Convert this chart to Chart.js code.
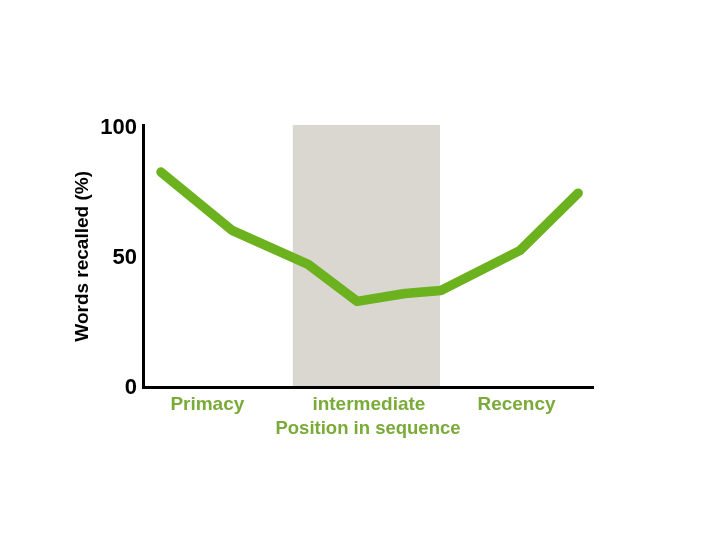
<!DOCTYPE html>
<html>
<head>
<meta charset="utf-8">
<script src="https://cdn.jsdelivr.net/npm/chart.js@4"></script>
<style>
  html, body { margin: 0; padding: 0; background: #ffffff; }
  #wrap { position: relative; width: 720px; height: 540px; }
</style>
</head>
<body>
<div id="wrap"><canvas id="c"></canvas></div>
<script>
// Serial position curve (x: relative position in sequence, 0-100; y: % words recalled)
const positions = [4.0, 19.8, 36.7, 47.6, 58.2, 66.2, 83.8, 96.7];
const recalled  = [82.9, 60.5, 47.4, 33.2, 36.2, 37.4, 52.8, 74.8];
const yTicks = [0, 50, 100];
const regionLabels = ['Primacy', 'intermediate', 'Recency'];
const regionCenters = [14.3, 50.2, 83.0];
const intermediateBand = [33.3, 66.0];

const GREEN_LINE = '#6cb21e';
const GREEN_TEXT = '#7aab38';
const FONT = "'Liberation Sans', Arial, Helvetica, sans-serif";

const bandPlugin = {
  id: 'band',
  beforeDraw(chart) {
    const { ctx, chartArea, scales } = chart;
    const x0 = scales.x.getPixelForValue(intermediateBand[0]);
    const x1 = scales.x.getPixelForValue(intermediateBand[1]);
    ctx.save();
    ctx.fillStyle = '#d9d7d0';
    ctx.fillRect(x0, chartArea.top, x1 - x0, chartArea.bottom - chartArea.top);
    ctx.restore();
  }
};

new Chart(document.getElementById('c'), {
  type: 'line',
  data: {
    datasets: [{
      data: positions.map((p, i) => ({ x: p, y: recalled[i] })),
      borderColor: GREEN_LINE,
      borderWidth: 9.5,
      borderCapStyle: 'round',
      borderJoinStyle: 'round',
      pointRadius: 0,
      tension: 0,
      fill: false
    }]
  },
  options: {
    responsive: true,
    maintainAspectRatio: false,
    animation: false,
    events: [],
    layout: { padding: { left: 68, right: 127, top: 125, bottom: 102 } },
    plugins: { legend: { display: false }, tooltip: { enabled: false } },
    scales: {
      x: {
        type: 'linear',
        min: 0,
        max: 100,
        grid: { display: false, drawTicks: false },
        border: { display: true, color: '#000000', width: 3 },
        afterBuildTicks(scale) { scale.ticks = regionCenters.map(v => ({ value: v })); },
        ticks: {
          autoSkip: false,
          maxRotation: 0,
          padding: 6,
          color: GREEN_TEXT,
          font: { family: FONT, size: 19, weight: 'bold' },
          callback(value, index) { return regionLabels[index]; }
        },
        title: {
          display: true,
          text: 'Position in sequence',
          color: GREEN_TEXT,
          font: { family: FONT, size: 18.5, weight: 'bold', lineHeight: 1.0 },
          padding: { top: -3, bottom: 0 }
        }
      },
      y: {
        type: 'linear',
        min: 0,
        max: 101,
        afterFit(scale) { scale.width = 75; },
        afterBuildTicks(scale) { scale.ticks = yTicks.map(v => ({ value: v })); },
        grid: { display: false, drawTicks: false },
        border: { display: true, color: '#000000', width: 3 },
        ticks: {
          padding: 6,
          color: '#000000',
          font: { family: FONT, size: 22, weight: 'bold' }
        },
        title: {
          display: true,
          text: 'Words recalled (%)',
          color: '#000000',
          font: { family: FONT, size: 19, weight: 'bold' },
          padding: { top: 3, bottom: 0 }
        }
      }
    }
  },
  plugins: [bandPlugin]
});
</script>
</body>
</html>
